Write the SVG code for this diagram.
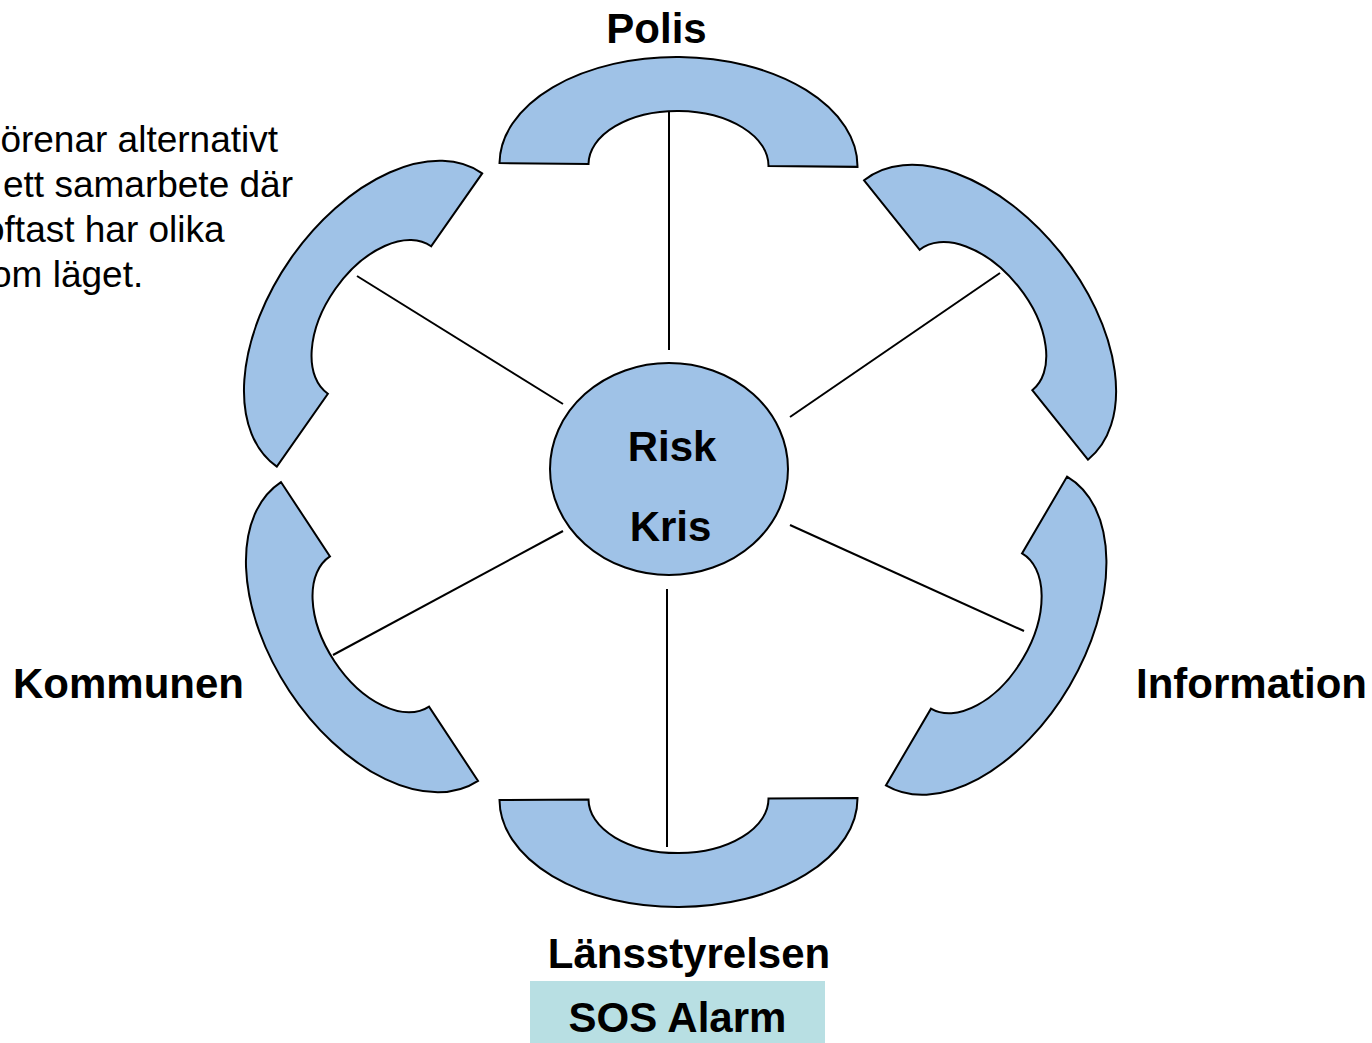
<svg xmlns="http://www.w3.org/2000/svg" width="1372" height="1043" viewBox="0 0 1372 1043">
<defs>
<style>
.arc{fill:#9fc2e7;stroke:#000;stroke-width:2;stroke-linejoin:miter}
.spoke{stroke:#000;stroke-width:2;fill:none}
.lbl{font-family:"Liberation Sans",Arial,sans-serif;font-weight:bold;font-size:42px;fill:#000}
.body{font-family:"Liberation Sans",Arial,sans-serif;font-size:37px;fill:#000}
</style>
<path id="blockarc" d="M-179,0 A179,108 0 0 1 179,0 L90,0 A90,54 0 0 0 -90,0 Z"/>
</defs>
<rect width="1372" height="1043" fill="#fff"/>
<g id="note">
<text class="body" x="0.4" y="152">örenar alternativt</text>
<text class="body" x="3" y="197">ett samarbete där</text>
<text class="body" x="-16" y="242">oftast har olika</text>
<text class="body" x="-9" y="287">om läget.</text>
</g>
<g id="connectors">
<line class="spoke" x1="669" y1="112" x2="669" y2="350"/>
<line class="spoke" x1="357" y1="276" x2="563" y2="404"/>
<line class="spoke" x1="1000" y1="273" x2="790" y2="417"/>
<line class="spoke" x1="790" y1="525" x2="1024" y2="631"/>
<line class="spoke" x1="333" y1="655" x2="563" y2="531"/>
<line class="spoke" x1="667" y1="589" x2="667" y2="847"/>
</g>
<g id="arc-top"><use href="#blockarc" class="arc" transform="translate(678.5,165) rotate(0.6)"/></g>
<g id="arc-upper-right"><use href="#blockarc" class="arc" transform="translate(976,320) rotate(51.3)"/></g>
<g id="arc-lower-right"><use href="#blockarc" class="arc" transform="translate(976.5,631) rotate(120.4)"/></g>
<g id="arc-bottom"><use href="#blockarc" class="arc" transform="translate(678.5,799) rotate(179.7)"/></g>
<g id="arc-lower-left"><use href="#blockarc" class="arc" transform="translate(379.5,631.5) rotate(-123.4)"/></g>
<g id="arc-upper-left"><use href="#blockarc" class="arc" transform="translate(379.5,320) rotate(-55)"/></g>
<g id="center">
<ellipse cx="669" cy="469" rx="119" ry="106" class="arc"/>
<text class="lbl" x="672" y="461" text-anchor="middle">Risk</text>
<text class="lbl" x="670.5" y="541" text-anchor="middle">Kris</text>
</g>
<g id="label-polis"><text class="lbl" x="656.5" y="43" text-anchor="middle">Polis</text></g>
<g id="label-kommunen"><text class="lbl" x="13" y="698">Kommunen</text></g>
<g id="label-information"><text class="lbl" x="1136" y="698">Information</text></g>
<g id="label-lansstyrelsen"><text class="lbl" x="689" y="968" text-anchor="middle">Länsstyrelsen</text></g>
<g id="label-sos">
<rect x="530" y="981" width="295" height="62" fill="#b8dfe3"/>
<text class="lbl" x="677.5" y="1032" text-anchor="middle">SOS Alarm</text>
</g>
</svg>
